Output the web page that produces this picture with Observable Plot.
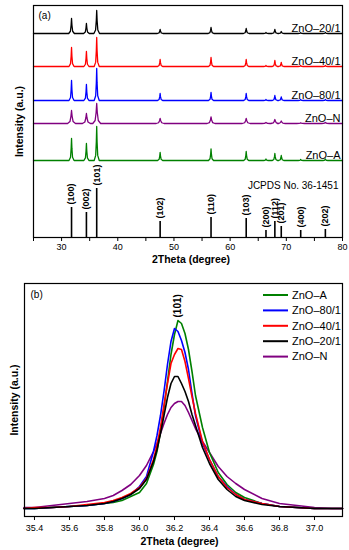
<!DOCTYPE html>
<html><head><meta charset="utf-8">
<script src="https://cdn.jsdelivr.net/npm/d3@7"></script>
<script src="https://cdn.jsdelivr.net/npm/@observablehq/plot@0.6"></script>
<style>
html,body{margin:0;padding:0;background:#fff;}
#wrap{position:relative;width:349px;height:550px;font-family:"Liberation Sans",Arial,Helvetica,sans-serif;}
#wrap > svg, #wrap > figure{display:block;margin:0;}
#legend{position:absolute;left:0;top:275px;pointer-events:none;}
</style></head><body><div id="wrap"></div>
<script>
// ===== Panel (a): XRD patterns =====
const peakPos = [31.77, 34.42, 36.25, 47.54, 56.60, 62.86, 66.38, 67.96, 69.10, 72.56, 76.95];
const peakHkl = ["(100)","(002)","(101)","(102)","(110)","(103)","(200)","(112)","(201)","(400)","(202)"];
const jcpdsHeight = [30, 25, 49, 16, 20, 19, 7, 16, 11, 7, 8];
const sampleNames = ["ZnO–20/1","ZnO–40/1","ZnO–80/1","ZnO–N","ZnO–A"];
const h20 = [15, 10, 23, 4, 6, 5, 1, 4, 2, 0.8, 1];
const h40 = [19, 15, 29, 7, 9, 7, 1, 6, 4, 1, 1];
const h80 = [20, 16, 32, 7, 8, 7, 1, 5, 3.5, 1, 1];
const hN  = [13, 10, 20, 5, 6.5, 5, 1, 4, 2.5, 0.7, 1];
const hA  = [22, 17, 34, 8, 11.5, 9, 1.5, 7, 5, 1, 1.5];
const thetaRangeA = [25, 80];
const ticksA = [30, 40, 50, 60, 70, 80];
const minorTicksA = [25, 35, 45, 55, 65, 75];

// ===== Panel (b): (101) peak =====
const theta101 = [35.34, 35.4, 35.5, 35.6, 35.7, 35.8, 35.85, 35.9, 35.95, 36.0, 36.04, 36.08, 36.1, 36.12, 36.14, 36.16, 36.18, 36.2, 36.22, 36.24, 36.26, 36.28, 36.3, 36.32, 36.36, 36.4, 36.45, 36.5, 36.55, 36.6, 36.7, 36.8, 36.9, 37.0, 37.1, 37.16];
const iA   = [1, 1, 2, 3, 4, 6, 7, 9, 13, 17, 26, 45, 58, 78, 102, 128, 155, 175, 189, 186, 176, 160, 138, 114, 82, 57, 37, 25, 17, 12, 6, 3, 2, 1, 1, 1];
const i80  = [1, 1, 2, 3, 4, 6, 8, 11, 15, 23, 33, 58, 74, 94, 118, 145, 168, 181, 178, 169, 157, 140, 116, 94, 66, 50, 33, 23, 15, 10, 6, 3, 2, 1, 1, 1];
const i40  = [1, 2, 2, 3, 5, 7, 9, 12, 16, 22, 31, 50, 64, 82, 104, 126, 146, 155, 161, 160, 148, 131, 113, 96, 68, 50, 33, 22, 15, 10, 6, 3, 2, 1, 1, 1];
const i20  = [1, 1, 2, 3, 4, 6, 8, 11, 15, 21, 30, 48, 60, 76, 94, 112, 126, 133, 133, 126, 118, 108, 95, 84, 62, 46, 30, 20, 13, 9, 5, 3, 2, 1, 1, 1];
const iN   = [2, 2, 4, 6, 8, 11, 14, 19, 25, 34, 44, 58, 66, 76, 86, 95, 102, 106, 108, 108, 104, 97, 89, 81, 68, 57, 43, 33, 26, 20, 11, 6, 4, 2, 1, 1];
const ticksB = [35.4, 35.6, 35.8, 36.0, 36.2, 36.4, 36.6, 36.8, 37.0];
const legendOrder = ["ZnO–A","ZnO–80/1","ZnO–40/1","ZnO–20/1","ZnO–N"];

// ===== styles =====
const FONT = '"Liberation Sans", Arial, Helvetica, sans-serif';
const colors = {"ZnO–20/1":"#000000","ZnO–40/1":"#ff0000","ZnO–80/1":"#0000ff","ZnO–N":"#800080","ZnO–A":"#008000"};
const stackOffset = {"ZnO–20/1":204,"ZnO–40/1":171,"ZnO–80/1":137,"ZnO–N":114,"ZnO–A":77};
const peakWidth = {"ZnO–20/1":0.5,"ZnO–40/1":0.45,"ZnO–80/1":0.45,"ZnO–N":0.7,"ZnO–A":0.45};
const peakShape = [[-1,0],[-0.4,0.15],[-0.15,0.55],[0,1],[0.15,0.55],[0.4,0.15],[1,0]];

const heightsA = {"ZnO–20/1":h20,"ZnO–40/1":h40,"ZnO–80/1":h80,"ZnO–N":hN,"ZnO–A":hA};
const patternRows = [];
for (const s of sampleNames) {
  const off = stackOffset[s], w = peakWidth[s], H = heightsA[s];
  patternRows.push({s, x: thetaRangeA[0], y: off});
  peakPos.forEach((p, i) => {
    for (const [k, f] of peakShape) patternRows.push({s, x: p + k * w, y: off + f * H[i]});
  });
  patternRows.push({s, x: thetaRangeA[1], y: off});
}
const sticks = peakPos.map((p, i) => ({pos: p, h: jcpdsHeight[i], hkl: peakHkl[i]}));

const colorScale = {domain: sampleNames, range: sampleNames.map(s => colors[s])};
const baseStyle = {fontFamily: FONT, fontSize: "9px", color: "#000", background: "#fff", overflow: "visible"};

const plotA = Plot.plot({
  width: 349, height: 275, marginLeft: 33, marginRight: 7, marginTop: 5, marginBottom: 38,
  style: baseStyle,
  x: {domain: thetaRangeA},
  y: {domain: [0, 232], axis: null},
  color: colorScale,
  marks: [
    Plot.line(patternRows, {x: "x", y: "y", z: "s", stroke: "s", strokeWidth: 1.3}),
    Plot.ruleX(sticks, {x: "pos", y1: 0, y2: "h", stroke: "#000", strokeWidth: 1.6}),
    Plot.text(sticks, {x: "pos", y: "h", text: "hkl", rotate: -90, textAnchor: "start", lineAnchor: "middle", dy: -3, fontWeight: "bold", fontSize: 9, fill: "#000"}),
    Plot.text(sampleNames, {y: s => stackOffset[s], text: d => d, frameAnchor: "right", textAnchor: "end", lineAnchor: "bottom", dx: -2, dy: -2, fontSize: 11, fill: "#000"}),
    Plot.text(["JCPDS No. 36-1451"], {text: d => d, frameAnchor: "bottom-right", textAnchor: "end", lineAnchor: "bottom", dx: -4, dy: -49, fontSize: 10, fill: "#000"}),
    Plot.text(["(a)"], {text: d => d, frameAnchor: "top-left", textAnchor: "start", lineAnchor: "middle", dx: 5, dy: 10.5, fontSize: 10, fill: "#000"}),
    Plot.axisX({ticks: ticksA, tickSize: 4, tickPadding: 2.5, label: null, tickFormat: d => String(d), fontSize: 9}),
    Plot.axisX({ticks: minorTicksA, tickSize: 4, label: null, tickFormat: () => ""}),
    Plot.text(["Intensity (a.u.)"], {text: d => d, frameAnchor: "left", rotate: -90, dx: -14, textAnchor: "middle", lineAnchor: "middle", fontWeight: "bold", fontSize: 10.5, fill: "#000"}),
    Plot.text(["2Theta (degree)"], {text: d => d, frameAnchor: "bottom", dx: 3, dy: 25, textAnchor: "middle", lineAnchor: "bottom", fontWeight: "bold", fontSize: 10.5, fill: "#000"}),
    Plot.frame({stroke: "#000", strokeWidth: 1.2})
  ]
});

const seriesB = {"ZnO–A": iA, "ZnO–80/1": i80, "ZnO–40/1": i40, "ZnO–20/1": i20, "ZnO–N": iN};
const drawOrderB = ["ZnO–N","ZnO–A","ZnO–80/1","ZnO–40/1","ZnO–20/1"];
const rowsB = drawOrderB.flatMap(s => theta101.map((t, i) => ({s, x: t, y: seriesB[s][i]})));
const topIdx = d3.maxIndex(iA);
const peakLabel = [{x: theta101[topIdx], y: iA[topIdx], t: "(101)"}];

const plotB = Plot.plot({
  width: 349, height: 275, marginLeft: 24, marginRight: 7, marginTop: 8, marginBottom: 34,
  style: baseStyle,
  x: {domain: [35.343, 37.16]},
  y: {domain: [-7, 226], axis: null},
  color: colorScale,
  marks: [
    Plot.line(rowsB, {x: "x", y: "y", z: "s", stroke: "s", strokeWidth: 1.6}),
    Plot.text(peakLabel, {x: "x", y: "y", text: "t", rotate: -90, textAnchor: "start", lineAnchor: "middle", dy: -3, fontWeight: "bold", fontSize: 10, fill: "#000"}),
    Plot.text(["(b)"], {text: d => d, frameAnchor: "top-left", textAnchor: "start", lineAnchor: "middle", dx: 6, dy: 11, fontSize: 10, fill: "#000"}),
    Plot.axisX({ticks: ticksB, tickSize: 4, tickPadding: 4, label: null, tickFormat: d3.format(".1f"), fontSize: 9}),
    Plot.text(["Intensity (a.u.)"], {text: d => d, frameAnchor: "left", rotate: -90, dx: -10, textAnchor: "middle", lineAnchor: "middle", fontWeight: "bold", fontSize: 10.5, fill: "#000"}),
    Plot.text(["2Theta (degree)"], {text: d => d, frameAnchor: "bottom", dx: -4, dy: 28, textAnchor: "middle", lineAnchor: "bottom", fontWeight: "bold", fontSize: 10.5, fill: "#000"}),
    Plot.frame({stroke: "#000", strokeWidth: 1.2})
  ]
});

const wrap = document.getElementById("wrap");
wrap.appendChild(plotA);
wrap.appendChild(plotB);

// legend overlay inside panel (b)
const leg = d3.select(wrap).append("svg").attr("id", "legend").attr("width", 349).attr("height", 275);
const g = leg.selectAll("g").data(legendOrder).join("g")
  .attr("transform", (d, i) => `translate(0,${20 + i * 15.4})`);
g.append("line").attr("x1", 263).attr("x2", 288).attr("y1", 0).attr("y2", 0)
  .attr("stroke", d => colors[d]).attr("stroke-width", 2);
g.append("text").attr("x", 292).attr("y", 0).attr("dy", "0.35em")
  .attr("font-family", FONT).attr("font-size", 11).attr("fill", "#000").text(d => d);
</script></body></html>
